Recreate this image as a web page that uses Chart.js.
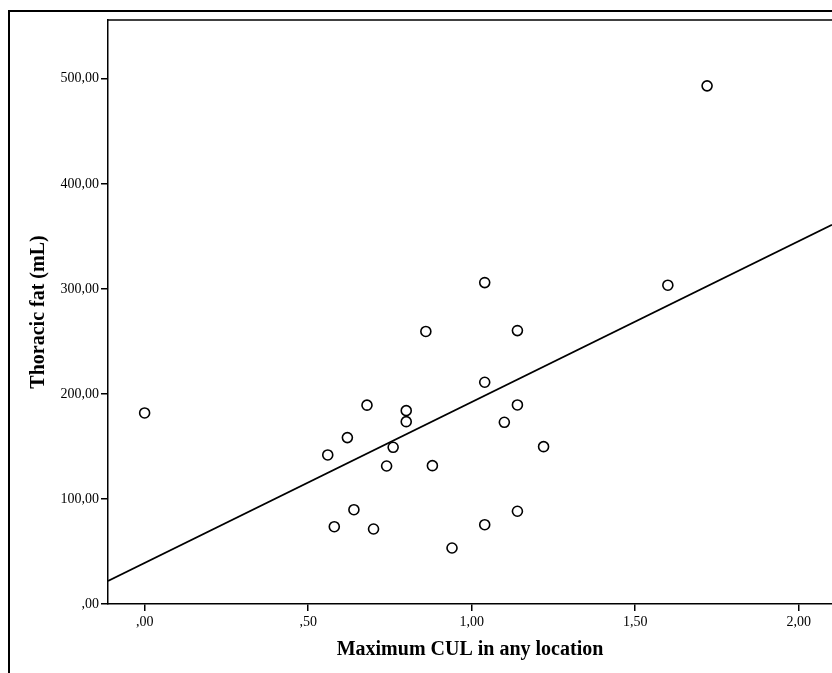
<!DOCTYPE html>
<html>
<head>
<meta charset="utf-8">
<script src="https://cdn.jsdelivr.net/npm/chart.js@4/dist/chart.umd.min.js"></script>
<style>
  html, body { margin: 0; padding: 0; background: #fff; }
  #wrap { width: 832px; height: 673px; }
</style>
</head>
<body>
<div id="wrap"><canvas id="grafico" width="832" height="673"></canvas></div>
<script>
// valores
var culMax = [0.00, 0.56, 0.58, 0.62, 0.64, 0.68, 0.70, 0.74, 0.76, 0.80, 0.80, 0.86,
              0.88, 0.94, 1.04, 1.04, 1.04, 1.10, 1.14, 1.14, 1.14, 1.22, 1.60, 1.72];
var gorduraToracica = [181.9, 141.9, 73.6, 158.4, 89.8, 189.3, 71.4, 131.4, 149.2, 184.1, 173.6, 259.5,
                       131.7, 53.3, 306.0, 211.1, 75.5, 173.0, 260.3, 189.5, 88.3, 149.8, 303.5, 493.3];
var retaX = [-0.112, 2.102];
var retaY = [21.9, 361.0];
var ticksX = [0, 0.5, 1, 1.5, 2];
var ticksY = [0, 100, 200, 300, 400, 500];

function formatar(v) {
    var s = v.toFixed(2).replace(".", ",");
    if (s.indexOf("0,") === 0) s = s.substring(1);
    return s;
}

var pontos = culMax.map(function (x, i) { return { x: x, y: gorduraToracica[i] }; });
var reta = retaX.map(function (x, i) { return { x: x, y: retaY[i] }; });

// moldura externa e borda superior da área do gráfico
var molduras = {
    id: "molduras",
    beforeDraw: function (chart) {
        var ctx = chart.ctx;
        ctx.save();
        ctx.fillStyle = "#fff";
        ctx.fillRect(0, 0, chart.width, chart.height);
        ctx.restore();
    },
    afterDraw: function (chart) {
        var ctx = chart.ctx, a = chart.chartArea;
        ctx.save();
        ctx.strokeStyle = "#000";
        ctx.lineWidth = 2;
        ctx.beginPath();
        ctx.moveTo(9, chart.height);
        ctx.lineTo(9, 11);
        ctx.lineTo(chart.width, 11);
        ctx.stroke();
        ctx.lineWidth = 1.5;
        ctx.beginPath();
        ctx.moveTo(a.left, a.top);
        ctx.lineTo(chart.width, a.top);
        ctx.stroke();
        ctx.restore();
    }
};

var fonteTick = { family: "'Liberation Serif', 'DejaVu Serif', serif", size: 14 };
var fonteTitulo = { family: "'Liberation Serif', 'DejaVu Serif', serif", size: 20, weight: "bold" };

new Chart(document.getElementById("grafico"), {
    type: "scatter",
    data: {
        datasets: [
            {
                label: "Observado",
                data: pontos,
                pointRadius: 5,
                pointHoverRadius: 5,
                pointBorderWidth: 1.6,
                pointBorderColor: "#000",
                pointBackgroundColor: "#fff"
            },
            {
                label: "Ajuste linear",
                type: "line",
                data: reta,
                borderColor: "#000",
                borderWidth: 1.8,
                pointRadius: 0,
                fill: false
            }
        ]
    },
    options: {
        responsive: false,
        animation: false,
        layout: { autoPadding: false, padding: { left: 0, top: 20, right: 0, bottom: 0 } },
        plugins: { legend: { display: false }, tooltip: { enabled: false } },
        scales: {
            x: {
                type: "linear",
                min: retaX[0],
                max: retaX[1],
                afterBuildTicks: function (s) { s.ticks = ticksX.map(function (v) { return { value: v }; }); },
                afterFit: function (s) { s.height = 69; s.paddingLeft = 0; s.paddingRight = 0; },
                ticks: { color: "#000", font: fonteTick, padding: 3, maxRotation: 0, callback: function (v) { return formatar(v); } },
                grid: { drawOnChartArea: false, drawTicks: true, tickLength: 7, color: "#000", lineWidth: 1.5 },
                border: { display: true, color: "#000", width: 1.5 },
                title: { display: true, text: "Maximum CUL in any location", color: "#000", font: fonteTitulo, padding: { top: 0, bottom: 11 } }
            },
            y: {
                type: "linear",
                min: 0,
                max: 556,
                afterBuildTicks: function (s) { s.ticks = ticksY.map(function (v) { return { value: v }; }); },
                afterFit: function (s) { s.width = 108; s.paddingTop = 0; s.paddingBottom = 0; },
                ticks: { color: "#000", font: fonteTick, padding: 2, callback: function (v) { return formatar(v); } },
                grid: { drawOnChartArea: false, drawTicks: true, tickLength: 7, color: "#000", lineWidth: 1.5 },
                border: { display: true, color: "#000", width: 1.5 },
                title: { display: true, text: "Thoracic fat (mL)", color: "#000", font: fonteTitulo, padding: { top: 27, bottom: 0 } }
            }
        }
    },
    plugins: [molduras]
});
</script>
</body>
</html>
